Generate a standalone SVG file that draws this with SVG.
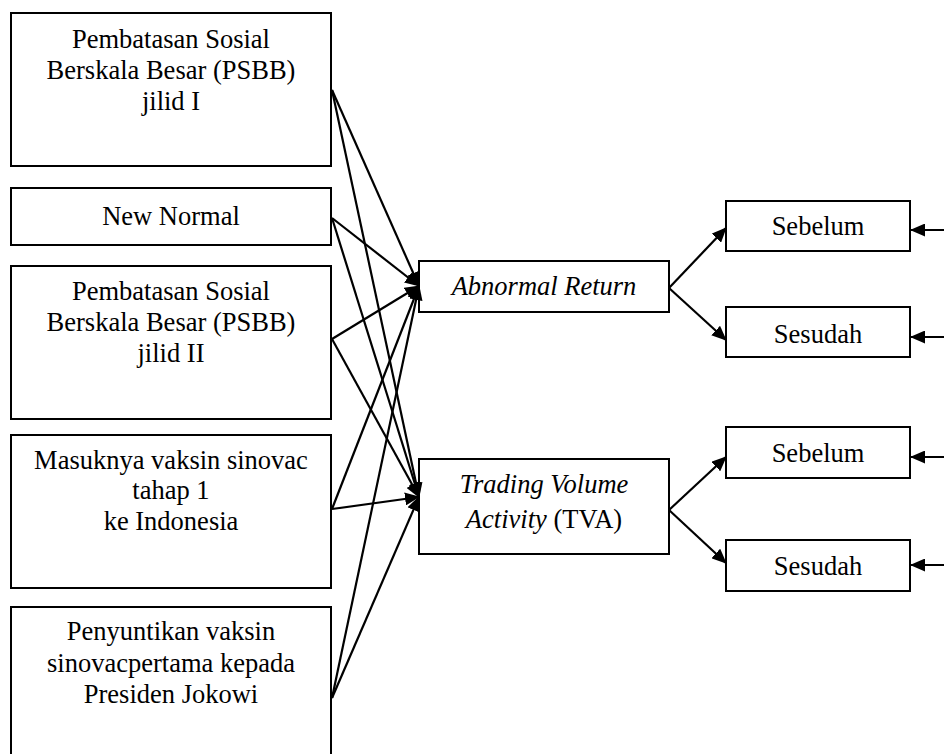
<svg xmlns="http://www.w3.org/2000/svg" width="944" height="754" viewBox="0 0 944 754">
<style>
.box{fill:#fff;stroke:#000;stroke-width:2}
.t text{font-size:26.5px;fill:#000;text-anchor:middle}
.it{font-style:italic}
.c line{stroke:#000;stroke-width:2.2;marker-end:url(#ah)}
</style>
<defs>
<marker id="ah" markerUnits="userSpaceOnUse" viewBox="0 0 15 13" refX="14" refY="6.5" markerWidth="15" markerHeight="13" orient="auto">
<path d="M0,0 L15,6.5 L0,13 Z" fill="#000"/>
</marker>
</defs>
<rect width="944" height="754" fill="#fff"/>
<g class="t" font-family="'Liberation Serif', 'Times New Roman', Times, 'DejaVu Serif', serif">
<g id="n1"><rect class="box" x="11" y="13" width="320" height="153"/>
<text x="171" y="48">Pembatasan Sosial</text><text x="171" y="79">Berskala Besar (PSBB)</text><text x="171" y="110">jilid I</text></g>
<g id="n2"><rect class="box" x="11" y="188" width="320" height="57"/><text x="171" y="225">New Normal</text></g>
<g id="n3"><rect class="box" x="11" y="266" width="320" height="153"/>
<text x="171" y="300">Pembatasan Sosial</text><text x="171" y="331">Berskala Besar (PSBB)</text><text x="171" y="362">jilid II</text></g>
<g id="n4"><rect class="box" x="11" y="435" width="320" height="153"/>
<text x="171" y="469">Masuknya vaksin sinovac</text><text x="171" y="499">tahap 1</text><text x="171" y="530">ke Indonesia</text></g>
<g id="n5"><rect class="box" x="11" y="607" width="320" height="170"/>
<text x="171" y="640">Penyuntikan vaksin</text><text x="171" y="672">sinovacpertama kepada</text><text x="171" y="703">Presiden Jokowi</text></g>
<g id="ar"><rect class="box" x="419" y="261" width="250" height="51"/><text class="it" x="544" y="295">Abnormal Return</text></g>
<g id="tva"><rect class="box" x="419" y="459" width="250" height="95"/>
<text class="it" x="544" y="493">Trading Volume</text><text x="544" y="528"><tspan class="it">Activity</tspan> (TVA)</text></g>
<g id="s1"><rect class="box" x="726" y="201" width="184" height="50"/><text x="818" y="235">Sebelum</text></g>
<g id="s2"><rect class="box" x="726" y="307" width="184" height="50"/><text x="818" y="343">Sesudah</text></g>
<g id="s3"><rect class="box" x="726" y="427" width="184" height="51"/><text x="818" y="462">Sebelum</text></g>
<g id="s4"><rect class="box" x="726" y="540" width="184" height="51"/><text x="818" y="575">Sesudah</text></g>
</g>
<g id="connectors" class="c">
<line x1="332" y1="90" x2="419" y2="286"/>
<line x1="332" y1="90" x2="419" y2="497"/>
<line x1="332" y1="218" x2="419" y2="286"/>
<line x1="332" y1="218" x2="419" y2="497"/>
<line x1="332" y1="339" x2="419" y2="286"/>
<line x1="332" y1="339" x2="419" y2="497"/>
<line x1="332" y1="509" x2="419" y2="286"/>
<line x1="332" y1="509" x2="419" y2="497"/>
<line x1="332" y1="698" x2="419" y2="286"/>
<line x1="332" y1="698" x2="419" y2="497"/>
<line x1="669" y1="288" x2="726" y2="228"/>
<line x1="669" y1="288" x2="726" y2="340"/>
<line x1="669" y1="510" x2="726" y2="457"/>
<line x1="669" y1="510" x2="726" y2="563"/>
<line x1="944" y1="230" x2="911" y2="230"/>
<line x1="944" y1="337" x2="911" y2="337"/>
<line x1="944" y1="457" x2="911" y2="457"/>
<line x1="944" y1="565" x2="911" y2="565"/>
</g>
</svg>
